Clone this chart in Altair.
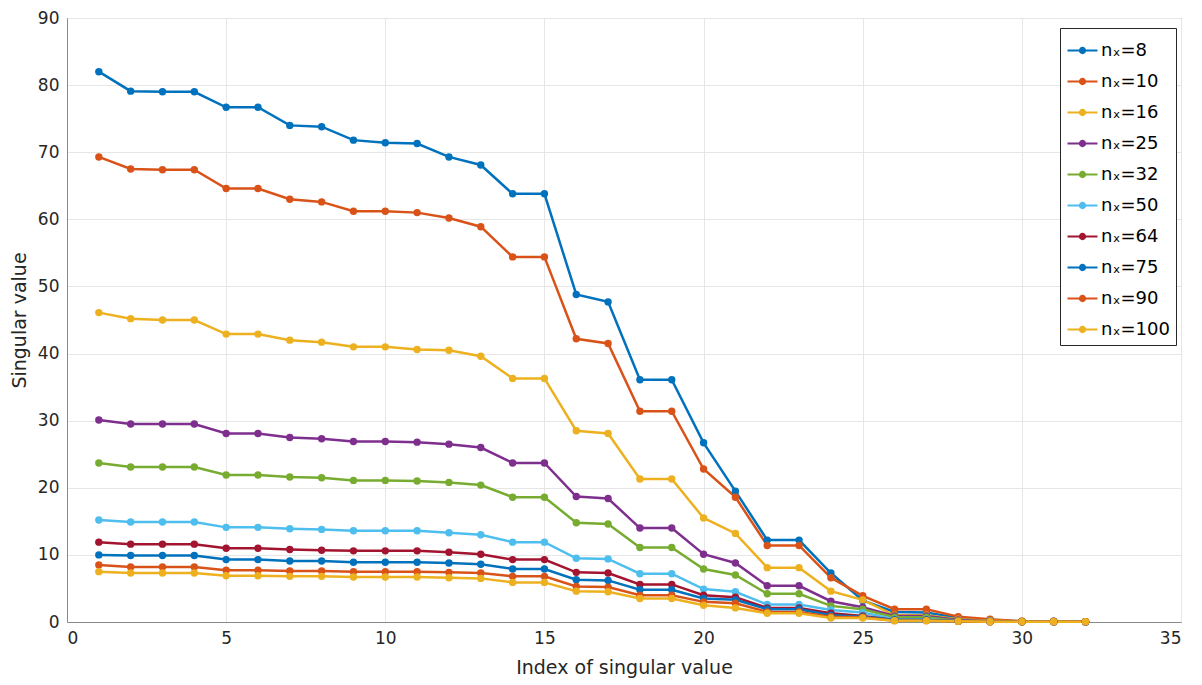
import altair as alt
import pandas as pd

idx = list(range(1, 33))
labels = ["n\u2093=8", "n\u2093=10", "n\u2093=16", "n\u2093=25", "n\u2093=32",
          "n\u2093=50", "n\u2093=64", "n\u2093=75", "n\u2093=90", "n\u2093=100"]
colors = ["#0072BD", "#D95319", "#EDB120", "#7E2F8E", "#77AC30",
          "#4DBEEE", "#A2142F", "#0072BD", "#D95319", "#EDB120"]

nx8 = [82.0,79.1,79.0,79.0,76.7,76.7,74.0,73.8,71.8,71.4,71.3,69.3,68.1,63.8,63.8,48.8,47.7,36.1,36.1,26.7,19.5,12.2,12.2,7.3,3.2,1.5,1.4,0.6,0.3,0.1,0.1,0.05]
nx10 = [69.3,67.5,67.4,67.4,64.6,64.6,63.0,62.6,61.2,61.2,61.0,60.2,58.9,54.4,54.4,42.2,41.5,31.4,31.4,22.8,18.6,11.4,11.4,6.6,3.9,1.9,1.9,0.8,0.4,0.1,0.1,0.05]
nx16 = [46.1,45.2,45.0,45.0,42.9,42.9,42.0,41.7,41.0,41.0,40.6,40.5,39.6,36.3,36.3,28.5,28.1,21.3,21.3,15.5,13.2,8.1,8.1,4.6,3.3,1.0,1.0,0.4,0.2,0.1,0.05,0.05]
nx25 = [30.1,29.5,29.5,29.5,28.1,28.1,27.5,27.3,26.9,26.9,26.8,26.5,26.0,23.7,23.7,18.7,18.4,14.0,14.0,10.1,8.8,5.4,5.4,3.1,2.2,0.9,0.9,0.3,0.1,0.05,0.05,0.05]
nx32 = [23.7,23.1,23.1,23.1,21.9,21.9,21.6,21.5,21.1,21.1,21.0,20.8,20.4,18.6,18.6,14.8,14.6,11.1,11.1,7.9,7.0,4.2,4.2,2.4,1.9,0.7,0.7,0.2,0.1,0.05,0.05,0.05]
nx50 = [15.2,14.9,14.9,14.9,14.1,14.1,13.9,13.8,13.6,13.6,13.6,13.3,13.0,11.9,11.9,9.5,9.4,7.2,7.2,4.9,4.5,2.6,2.6,1.8,1.4,0.4,0.4,0.15,0.1,0.05,0.05,0.05]
nx64 = [11.9,11.6,11.6,11.6,11.0,11.0,10.8,10.7,10.6,10.6,10.6,10.4,10.1,9.3,9.3,7.4,7.3,5.6,5.6,4.0,3.7,2.1,2.1,1.3,0.9,0.3,0.3,0.1,0.05,0.05,0.05,0.05]
nx75 = [10.0,9.9,9.9,9.9,9.3,9.3,9.1,9.1,8.9,8.9,8.9,8.8,8.6,7.9,7.9,6.3,6.2,4.8,4.8,3.5,3.3,1.9,1.9,1.0,0.8,0.3,0.3,0.1,0.05,0.05,0.05,0.05]
nx90 = [8.5,8.2,8.2,8.2,7.7,7.7,7.6,7.6,7.5,7.5,7.5,7.4,7.3,6.8,6.8,5.3,5.2,4.0,4.0,3.0,2.8,1.5,1.5,0.8,0.7,0.2,0.2,0.1,0.05,0.05,0.05,0.05]
nx100 = [7.5,7.3,7.3,7.3,6.9,6.9,6.8,6.8,6.7,6.7,6.7,6.6,6.5,5.9,5.9,4.6,4.5,3.5,3.5,2.5,2.1,1.3,1.3,0.6,0.6,0.2,0.2,0.1,0.05,0.05,0.05,0.05]

series = [nx8, nx10, nx16, nx25, nx32, nx50, nx64, nx75, nx90, nx100]

rows = []
for k, (lab, vals) in enumerate(zip(labels, series)):
    for i, v in zip(idx, vals):
        rows.append({"idx": i, "val": v, "series": lab, "order": k})
df = pd.DataFrame(rows)

FONT = "DejaVu Sans"

x = alt.X("idx:Q", title="Index of singular value",
          scale=alt.Scale(domain=[0, 35], nice=False),
          axis=alt.Axis(values=list(range(0, 36, 5)), format="d"))
y = alt.Y("val:Q", title="Singular value",
          scale=alt.Scale(domain=[0, 90], nice=False),
          axis=alt.Axis(values=list(range(0, 91, 10)), format="d"))
color = alt.Color("series:N", sort=labels,
                  scale=alt.Scale(domain=labels, range=colors),
                  legend=alt.Legend(
                      title=None, orient="none", legendX=993, legendY=10,
                      symbolType="M-1,0L1,0M-0.17,0A0.17,0.17 0 1,1 0.17,0A0.17,0.17 0 1,1 -0.17,0Z",
                      symbolSize=900, symbolStrokeWidth=2.2,
                      labelFontSize=18, labelFont=FONT, labelColor="#000000",
                      rowPadding=5, padding=6, labelOffset=2,
                      strokeColor="#262626", fillColor="#ffffff",
                      labelLimit=200))

lines = alt.Chart(df).mark_line(strokeWidth=2.5).encode(
    x=x, y=y, color=color, order="idx:Q", detail="order:O")
points = alt.Chart(df).mark_point(filled=True, size=55, opacity=1).encode(
    x=x, y=y, color=alt.Color("series:N", sort=labels,
                              scale=alt.Scale(domain=labels, range=colors),
                              legend=None))

chart = alt.layer(lines, points).properties(
    width=1114, height=604,
    autosize=alt.AutoSizeParams(type="none"),
    padding={"left": 67, "top": 18, "right": 21, "bottom": 63},
).configure_view(
    stroke="#8a8a8a", strokeWidth=1
).configure_axis(
    labelFont=FONT, titleFont=FONT, labelFontSize=17, titleFontSize=19,
    titleFontWeight="normal", labelColor="#262626", titleColor="#262626",
    domainColor="#8a8a8a", gridColor="#e6e6e6", ticks=False,
    labelPadding=8
).configure_axisX(
    titlePadding=12
).configure_axisY(
    titlePadding=8
)

chart.save("out.html", embed_options={"renderer": "svg", "actions": False})
